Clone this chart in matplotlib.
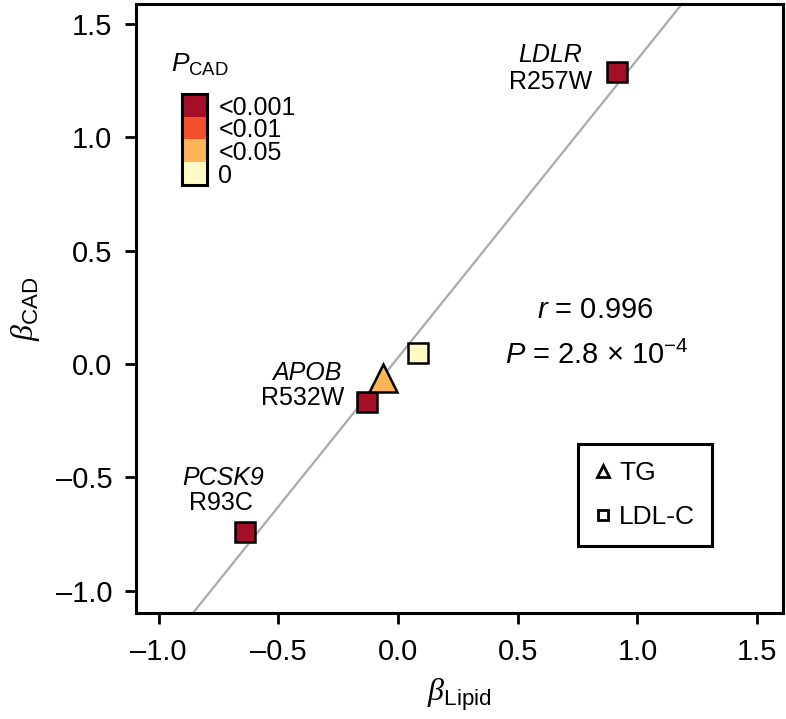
import matplotlib
matplotlib.use("Agg")
import matplotlib.pyplot as plt
from matplotlib.lines import Line2D
from matplotlib.colors import ListedColormap
import numpy as np

plt.rcParams['font.family'] = ['Liberation Sans', 'DejaVu Sans']
plt.rcParams['mathtext.fontset'] = 'custom'
plt.rcParams['mathtext.rm'] = 'Liberation Sans'
plt.rcParams['mathtext.it'] = 'Liberation Sans:italic'
plt.rcParams['mathtext.bf'] = 'Liberation Serif:italic'

# ---- data ----
beta_lipid = [0.915, -0.639, -0.129, -0.063, 0.084]
beta_cad = [1.286, -0.740, -0.167, -0.062, 0.048]
lipid_type = ['LDL-C', 'LDL-C', 'LDL-C', 'TG', 'LDL-C']
p_class = [0, 0, 0, 2, 3]          # index into p_labels
p_labels = ['<0.001', '<0.01', '<0.05', '0']
p_colors = ['#A50F26', '#F2502A', '#FDB558', '#FFFAC6']
gene_names = ['LDLR', 'PCSK9', 'APOB']
variant_names = ['R257W', 'R93C', 'R532W']
gene_point_idx = [0, 1, 2]
line_intercept = 0.028
line_slope = 1.314
r_value = 0.996
p_text = '2.8 × 10$^{-4}$'
xticks = [-1.0, -0.5, 0.0, 0.5, 1.0, 1.5]
yticks = [-1.0, -0.5, 0.0, 0.5, 1.0, 1.5]

W, H = 786, 719
fig = plt.figure(figsize=(W / 100, H / 100), dpi=100)
ax = fig.add_axes([136 / W, 1 - 613 / H, (783 - 136) / W, (613 - 4) / H])
ax.set_xlim(-1.094, 1.608)
ax.set_ylim(-1.097, 1.586)

ax.axline((0, line_intercept), slope=line_slope, color='#AAAAAA', lw=1.6, zorder=1)

for x, y, t, pc in zip(beta_lipid, beta_cad, lipid_type, p_class):
    if t == 'TG':
        ax.plot(x, y, marker='^', ms=20, mfc=p_colors[pc], mec='black', mew=1.8, ls='none', zorder=3)
    else:
        ax.plot(x, y, marker='s', ms=14, mfc=p_colors[pc], mec='black', mew=1.8, ls='none', zorder=3)

# gene labels (offsets in points)
gene_offsets = [(-48, 12), (-16, 39), (-43, 21)]
var_offsets = [(-48, -7), (-17, 21), (-46, 3)]
for g, v, i, go, vo in zip(gene_names, variant_names, gene_point_idx, gene_offsets, var_offsets):
    ax.annotate(g, (beta_lipid[i], beta_cad[i]), xytext=go, textcoords='offset points',
                ha='center', va='center', fontsize=18, style='italic')
    ax.annotate(v, (beta_lipid[i], beta_cad[i]), xytext=vo, textcoords='offset points',
                ha='center', va='center', fontsize=18)

ax.text(0.823, 0.238, r'$r$ = %.3f' % r_value, ha='center', va='center', fontsize=21)
ax.text(0.83, 0.04, r'$P$ = ' + p_text, ha='center', va='center', fontsize=21)

ax.set_xticks(xticks)
ax.set_yticks(yticks)
ax.set_xticklabels(['%.1f' % v if v >= 0 else '\u2013%.1f' % abs(v) for v in xticks])
ax.set_yticklabels(['%.1f' % v if v >= 0 else '\u2013%.1f' % abs(v) for v in yticks])
ax.tick_params(direction='out', length=8, width=2, labelsize=21)
ax.tick_params(axis='x', pad=10)
ax.tick_params(axis='y', pad=9)
for s in ax.spines.values():
    s.set_linewidth(2.2)

ax.set_xlabel(r'$\mathbf{\beta}_{\mathrm{Lipid}}$', fontsize=23, labelpad=8)
ax.set_ylabel(r'$\mathbf{\beta}_{\mathrm{CAD}}$', fontsize=23, labelpad=10)

# legend for lipid type
handles = [Line2D([], [], marker='^', ms=9, mfc='white', mec='black', mew=2, ls='none'),
           Line2D([], [], marker='s', ms=7, mfc='white', mec='black', mew=2, ls='none')]
leg = ax.legend(handles, ['TG', 'LDL-C'], loc='upper left',
                bbox_to_anchor=(578 / W, 1 - 444 / H), bbox_transform=fig.transFigure,
                fontsize=19, frameon=True, fancybox=False, edgecolor='black', framealpha=1,
                handlelength=0.6, handletextpad=0.3, borderpad=0.65, labelspacing=0.75,
                borderaxespad=0)
leg.get_frame().set_linewidth(2.2)

# P_CAD color key
cax = fig.add_axes([182 / W, 1 - 185 / H, 25 / W, 91 / H])
cmap = ListedColormap(p_colors[::-1])
cax.imshow(np.arange(len(p_colors))[::-1].reshape(-1, 1), cmap=cmap, aspect='auto',
           extent=(0, 1, 0, len(p_colors)))
cax.set_xticks([])
cax.set_yticks([])
for s in cax.spines.values():
    s.set_linewidth(2.2)
for k, lab in enumerate(p_labels):
    cax.text(1.45, len(p_labels) - k - 0.6, lab, transform=cax.transData, ha='left', va='center',
             fontsize=18, clip_on=False)
fig.text(200 / W, 1 - 65 / H, r'$P_{\mathrm{CAD}}$', ha='center', va='center', fontsize=19)

fig.savefig('out.png', dpi=100)
